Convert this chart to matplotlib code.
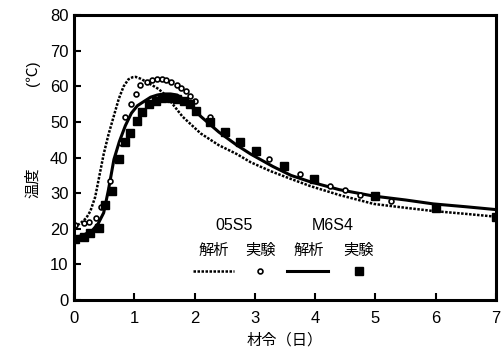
import numpy as np
import matplotlib.pyplot as plt

plt.rcParams['font.family'] = ['Liberation Sans', 'Noto Sans CJK JP', 'DejaVu Sans']

# 05S5 analysis (dotted line)
a1_day = [0, 0.1, 0.2, 0.27, 0.35, 0.42, 0.49, 0.57, 0.66, 0.74, 0.82, 0.9, 0.97, 1.02, 1.1, 1.21, 1.3, 1.4, 1.5, 1.6, 1.8, 2.1, 2.4, 2.7, 2.93, 3.26, 3.6, 3.92, 4.4, 4.97, 5.5, 5.96, 6.5, 7.0]
a1_temp = [20.5, 21.5, 23.0, 25.0, 29.0, 35.0, 41.0, 46.5, 51.8, 56.5, 60.0, 62.0, 62.6, 62.7, 62.2, 61.2, 60.3, 59.3, 57.8, 55.8, 51.5, 46.8, 43.5, 41.0, 38.7, 36.2, 34.0, 32.0, 29.5, 27.0, 25.9, 25.0, 24.2, 23.4]

# M6S4 analysis (solid line)
a2_day = [0, 0.15, 0.3, 0.4, 0.49, 0.57, 0.66, 0.75, 0.85, 0.95, 1.05, 1.15, 1.27, 1.38, 1.49, 1.6, 1.71, 1.82, 1.93, 2.1, 2.4, 2.7, 2.93, 3.3, 3.6, 3.92, 4.4, 4.97, 5.5, 5.96, 6.5, 7.0]
a2_temp = [17.5, 18.2, 19.5, 21.5, 24.5, 31.0, 39.5, 44.5, 49.0, 52.5, 54.6, 55.7, 57.0, 57.6, 57.9, 57.9, 57.6, 56.3, 54.6, 51.6, 47.2, 43.5, 41.0, 37.5, 35.0, 33.2, 31.0, 29.2, 28.1, 27.0, 26.2, 25.4]

# 05S5 experiment (circles)
e1_day = [0.02, 0.16, 0.24, 0.37, 0.44, 0.6, 0.77, 0.85, 0.94, 1.02, 1.1, 1.21, 1.29, 1.37, 1.45, 1.53, 1.61, 1.7, 1.78, 1.86, 1.93, 2.01, 2.26, 3.24, 3.74, 4.24, 4.49, 4.74, 5.25]
e1_temp = [21.0, 21.5, 22.0, 23.0, 26.0, 33.4, 44.0, 51.3, 55.0, 57.9, 60.3, 61.2, 61.7, 62.0, 62.0, 61.7, 61.2, 60.5, 59.5, 58.6, 57.4, 56.0, 51.5, 39.5, 35.4, 32.0, 30.9, 29.6, 27.9]

# M6S4 experiment (squares)
e2_day = [0.02, 0.16, 0.27, 0.41, 0.52, 0.62, 0.74, 0.84, 0.92, 1.05, 1.13, 1.24, 1.35, 1.46, 1.6, 1.71, 1.82, 1.93, 2.03, 2.26, 2.51, 2.76, 3.01, 3.48, 3.98, 5.0, 6.0, 7.0]
e2_temp = [17.0, 17.8, 18.9, 20.3, 26.8, 30.6, 39.7, 44.3, 47.0, 50.4, 52.7, 55.0, 56.0, 56.7, 56.7, 56.5, 56.0, 55.0, 53.2, 50.0, 47.3, 44.4, 41.9, 37.6, 34.0, 29.2, 25.9, 23.4]

fig = plt.figure(figsize=(5.01, 3.48), dpi=100)
ax = fig.add_axes([0.148, 0.138, 0.842, 0.818])

ax.plot(a1_day, a1_temp, color='black', linestyle=(0, (1, 0.6)), linewidth=1.8)
ax.plot(a2_day, a2_temp, color='black', linestyle='-', linewidth=2.2)
ax.plot(e1_day, e1_temp, linestyle='none', marker='o', markersize=3.5,
        markerfacecolor='white', markeredgecolor='black', markeredgewidth=1.2)
ax.plot(e2_day, e2_temp, linestyle='none', marker='s', markersize=6, color='black')

# legend drawn by hand in data coordinates
ax.text(2.65, 20.9, '05S5', ha='center', va='center', fontsize=11.5)
ax.text(4.29, 20.9, 'M6S4', ha='center', va='center', fontsize=11.5)
for lx, lab in zip([2.31, 3.09, 3.89, 4.72], ['解析', '実験', '解析', '実験']):
    ax.text(lx, 13.8, lab, ha='center', va='center', fontsize=11)
ax.plot([1.98, 2.65], [8.2, 8.2], color='black', linestyle=(0, (1, 0.6)), linewidth=1.8)
ax.plot([3.09], [8.2], marker='o', markersize=3.5, markerfacecolor='white',
        markeredgecolor='black', markeredgewidth=1.2)
ax.plot([3.54, 4.22], [8.2, 8.2], color='black', linewidth=2.2)
ax.plot([4.72], [8.2], marker='s', markersize=6, color='black')

ax.set_xlim(0, 7)
ax.set_ylim(0, 80)
ax.set_xticks(range(0, 8))
ax.set_yticks(range(0, 81, 10))
ax.tick_params(direction='in', length=5, width=1.5, labelsize=12)
ax.tick_params(axis='y', pad=4)
ax.tick_params(axis='x', pad=8)
for s in ax.spines.values():
    s.set_linewidth(2.2)

ax.set_xlabel('材令（日）', fontsize=11, labelpad=5)
fig.text(0.066, 0.475, '温度', rotation=90, ha='center', va='center', fontsize=11)
fig.text(0.066, 0.79, '(℃)', rotation=90, ha='center', va='center', fontsize=11)

fig.savefig('out.png', dpi=100)
